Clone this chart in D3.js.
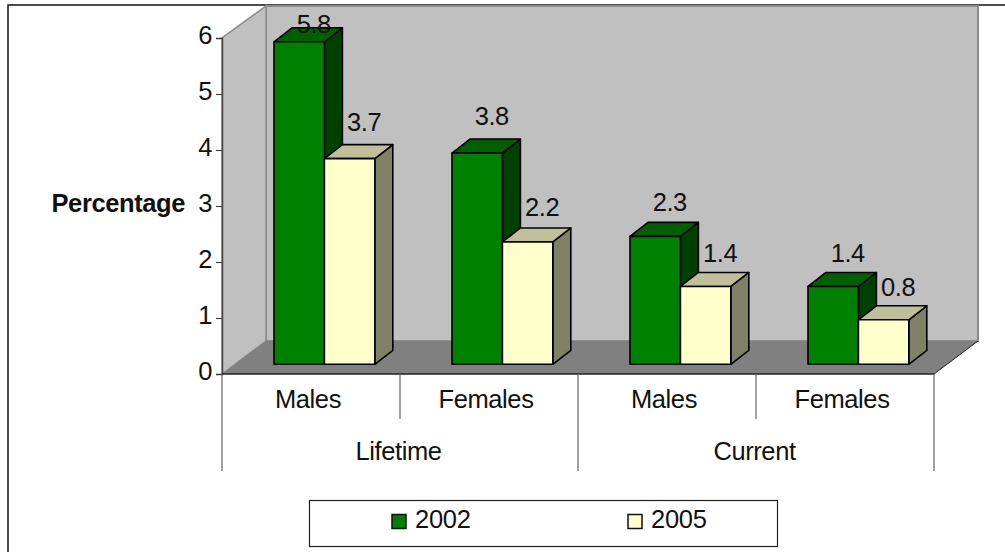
<!DOCTYPE html>
<html><head><meta charset="utf-8">
<style>html,body{margin:0;padding:0;background:#fff}svg{display:block}
text{font-family:"Liberation Sans",Arial,sans-serif;fill:#111;letter-spacing:-0.4px}</style>
<script src="https://cdn.jsdelivr.net/npm/d3@7/dist/d3.min.js"></script>
</head><body><svg id="c" width="1005" height="552"></svg>
<script>
const groups = ["Lifetime","Current"];
const categories = ["Lifetime|Males","Lifetime|Females","Current|Males","Current|Females"];
const catLabels = ["Males","Females","Males","Females"];
const series = ["2002","2005"];
const v2002 = [5.8,3.8,2.3,1.4];
const v2005 = [3.7,2.2,1.4,0.8];
const yTicks = [0,1,2,3,4,5,6];
const colors = {"2002":"#008000","2005":"#ffffcc"};
const sideColors = {"2002":"#004000","2005":"#808066"};
const topColors = {"2002":"#006000","2005":"#bfbf99"};

const svg = d3.select("#c");
const L=222,R=934,Y0=374,Y6=38,DX=44,DY=33,FS=25.5;
const y = d3.scaleLinear().domain([0,6]).range([Y0,Y6]);
const yBar = d3.scaleLinear().domain([0,6]).range([364.3,364.3-6*55.6]);
const yLabel = d3.scaleLinear().domain([0,6]).range([341.6,341.6-6*57]);
const x = d3.scaleBand().domain(categories).range([L,R]);
const xs = d3.scaleBand().domain(series).range([52,152.8]);
const gx = d3.scaleBand().domain(groups).range([L,R]);
const pts = a=>a.map(p=>p.join(",")).join(" ");

// chart frame
svg.append("path").attr("d","M8,552V5H1005").attr("fill","none").attr("stroke","#111").attr("stroke-width",1.5);

// walls
svg.append("polygon").attr("points",pts([[L+DX,Y0-DY],[R+DX,Y0-DY],[R+DX,Y6-DY+1],[L+DX,Y6-DY+1]])).attr("fill","#c0c0c0").attr("stroke","#8c8c8c").attr("stroke-width",2);
svg.append("polygon").attr("points",pts([[L,Y0],[L+DX,Y0-DY],[L+DX,Y6-DY+1],[L,Y6]])).attr("fill","#c0c0c0").attr("stroke","#8c8c8c").attr("stroke-width",1.5);
svg.append("polygon").attr("points",pts([[L,Y0],[R,Y0],[R+DX,Y0-DY],[L+DX,Y0-DY]])).attr("fill","#808080");
svg.append("line").attr("x1",R).attr("y1",Y0).attr("x2",R+DX).attr("y2",Y0-DY).attr("stroke","#222");

// bars
const bd=18, bh=14;
const rows=[];
categories.forEach((c,i)=>{rows.push({c,s:"2002",v:v2002[i]});rows.push({c,s:"2005",v:v2005[i]});});
const bar = svg.append("g").attr("stroke","#000").attr("stroke-width",1.6).attr("stroke-linejoin","round")
  .selectAll("g").data(rows).join("g");
const bx = d=>x(d.c)+xs(d.s), bw = xs.bandwidth(), base=yBar(0), top_ = d=>yBar(d.v);
bar.append("polygon").attr("fill",d=>sideColors[d.s])
  .attr("points",d=>pts([[bx(d)+bw,base],[bx(d)+bw+bd,base-bh],[bx(d)+bw+bd,top_(d)-bh],[bx(d)+bw,top_(d)]]));
bar.append("polygon").attr("fill",d=>topColors[d.s])
  .attr("points",d=>pts([[bx(d),top_(d)],[bx(d)+bd,top_(d)-bh],[bx(d)+bw+bd,top_(d)-bh],[bx(d)+bw,top_(d)]]));
bar.append("rect").attr("fill",d=>colors[d.s]).attr("x",bx).attr("y",top_).attr("width",bw).attr("height",d=>base-top_(d));

// data labels
svg.append("g").selectAll("text").data(rows).join("text")
  .attr("x",d=>bx(d)+bw/2+14.5).attr("y",d=>Math.max(yLabel(d.v),33))
  .attr("text-anchor","middle").attr("font-size",FS).attr("style","letter-spacing:-0.5px").text(d=>d.v.toFixed(1));

// y axis
const yAxis = svg.append("g").attr("transform",`translate(${L},0)`)
  .call(d3.axisLeft(y).tickValues(yTicks).tickSize(6).tickPadding(3).tickFormat(d3.format("d")));
yAxis.select(".domain").attr("stroke","#444").attr("stroke-width",1.5);
yAxis.selectAll(".tick line").attr("stroke","#333");
yAxis.selectAll("text").attr("font-size",FS).attr("font-family",null).attr("dy","0.2em").attr("dx",-1);
svg.append("text").attr("x",185).attr("y",212).attr("text-anchor","end").attr("font-size",FS).attr("font-weight","bold").text("Percentage");

// x axis multi-level
svg.append("line").attr("x1",L).attr("x2",R).attr("y1",Y0).attr("y2",Y0).attr("stroke","#222").attr("stroke-width",1.3);
const sep = svg.append("g").attr("stroke","#666").attr("stroke-width",1.2);
[L,gx("Current"),R].forEach(px=>sep.append("line").attr("x1",px).attr("x2",px).attr("y1",Y0).attr("y2",471));
categories.filter((c,i)=>i%2===1).forEach(c=>sep.append("line").attr("x1",x(c)).attr("x2",x(c)).attr("y1",Y0).attr("y2",419));
svg.append("g").selectAll("text").data(categories).join("text")
  .attr("x",c=>x(c)+x.bandwidth()/2-3).attr("y",408).attr("text-anchor","middle").attr("font-size",FS)
  .text((c,i)=>catLabels[i]);
svg.append("g").selectAll("text").data(groups).join("text")
  .attr("x",g=>gx(g)+gx.bandwidth()/2-1.5).attr("y",459.5).attr("text-anchor","middle").attr("font-size",FS).text(g=>g);

// legend
svg.append("rect").attr("x",309.5).attr("y",500.5).attr("width",468).attr("height",46).attr("fill","#fff").attr("stroke","#222").attr("stroke-width",1.2);
const lx = d3.scaleOrdinal().domain(series).range([392,628]);
const lg = svg.append("g").selectAll("g").data(series).join("g");
lg.append("rect").attr("x",d=>lx(d)).attr("y",514.5).attr("width",14).attr("height",14).attr("fill",d=>colors[d]).attr("stroke","#111").attr("stroke-width",1.5);
lg.append("text").attr("x",d=>lx(d)+23).attr("y",528).attr("font-size",FS).attr("style","letter-spacing:-0.3px").text(d=>d);
</script></body></html>
